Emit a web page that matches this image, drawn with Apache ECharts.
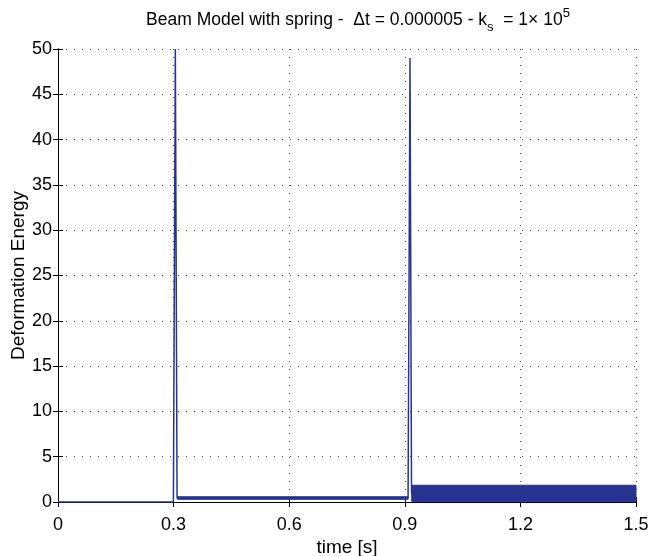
<!DOCTYPE html>
<html>
<head>
<meta charset="utf-8">
<script src="https://cdn.jsdelivr.net/npm/echarts@6/dist/echarts.min.js"></script>
<style>
  html, body { margin: 0; padding: 0; background: #fff; }
  #chart { width: 648px; height: 556px; }
</style>
</head>
<body>
<div id="chart"></div>
<script>
// main trace: rest, two impact spikes
const mainTime = [0, 0.2995, 0.3045, 0.309, 0.312, 0.9085, 0.9105, 0.9135, 0.9175, 0.9195];
const mainEnergy = [0, 0, 50, 0.45, 0.45, 0.45, 0.45, 49, 0.9, 0.9];

// fast oscillation between impacts, drawn as its envelope
const band1Time = [0.31, 0.9085];
const band1Low = [0.3, 0.3];
const band1High = [0.58, 0.58];

// oscillation after second impact
const band2Time = [0.918, 1.5];
const band2Low = [0.04, 0.04];
const band2High = [1.85, 1.85];

const xTicks = [0, 0.3, 0.6, 0.9, 1.2, 1.5];

(function () {
  const lineColor = '#27348f';
  const font = 'Liberation Sans, Arial, sans-serif';
  const tickFs = 18;
  const nameFs = 19;

  const pairs = (xs, ys) => xs.map((x, i) => [x, ys[i]]);

  // envelope polygon through the axes' own scales
  const bandSeries = (name, xs, lo, hi) => ({
    name: name,
    type: 'custom',
    silent: true,
    z: 2,
    data: xs.map((x, i) => [x, lo[i], hi[i]]),
    renderItem: (params, api) => {
      if (params.dataIndex !== 0) return;
      const top = xs.map((x, i) => api.coord([x, hi[i]]));
      const bot = xs.map((x, i) => api.coord([x, lo[i]])).reverse();
      return {
        type: 'polygon',
        shape: { points: top.concat(bot) },
        style: { fill: lineColor, stroke: lineColor, lineWidth: 1 }
      };
    }
  });

  const gridLine = { show: true, lineStyle: { color: '#444', width: 1, type: [1, 7] } };
  const tick = { show: true, inside: true, length: 5, lineStyle: { color: '#000' } };
  const axisLine = { show: true, lineStyle: { color: '#000', width: 1 } };

  const chart = echarts.init(document.getElementById('chart'), null, { renderer: 'canvas' });
  const option = {
    backgroundColor: '#fff',
    animation: false,
    title: {
      text: 'Beam Model with spring -  Δt = 0.000005 - k{sub|s}  = 1× 10{sup|5}',
      left: 353,
      top: 2,
      textAlign: 'center',
      textStyle: {
        fontFamily: font,
        fontSize: 17.5,
        fontWeight: 'normal',
        color: '#000',
        lineHeight: 27,
        rich: {
          sub: { fontFamily: font, fontSize: 13, color: '#000', lineHeight: 14, verticalAlign: 'bottom' },
          sup: { fontFamily: font, fontSize: 13, color: '#000', lineHeight: 14, verticalAlign: 'top' }
        }
      }
    },
    grid: { left: 58, right: 12, top: 49, bottom: 54, containLabel: false, outerBoundsMode: 'none' },
    xAxis: [
      {
        type: 'value',
        min: 0,
        max: 1.5,
        interval: 0.3,
        name: 'time [s]',
        nameLocation: 'middle',
        nameGap: 36,
        nameMoveOverlap: false,
        nameTextStyle: { fontFamily: font, fontSize: nameFs, color: '#000' },
        axisLine: axisLine,
        axisTick: tick,
        splitLine: gridLine,
        axisLabel: {
          margin: 14,
          fontFamily: font,
          fontSize: tickFs,
          color: '#000',
          formatter: v => {
            const t = xTicks.find(x => Math.abs(x - v) < 1e-6);
            return t === 0 ? '0' : (t !== undefined ? t.toFixed(1) : '');
          }
        }
      },
      {
        type: 'value',
        position: 'top',
        min: 0,
        max: 1.5,
        interval: 0.3,
        axisLine: axisLine,
        axisTick: tick,
        axisLabel: { show: false },
        splitLine: { show: false }
      }
    ],
    yAxis: [
      {
        type: 'value',
        min: 0,
        max: 50,
        interval: 5,
        name: 'Deformation Energy',
        nameLocation: 'middle',
        nameGap: 30,
        nameMoveOverlap: false,
        nameTextStyle: { fontFamily: font, fontSize: nameFs, color: '#000' },
        axisLine: axisLine,
        axisTick: tick,
        splitLine: gridLine,
        axisLabel: { margin: 6, fontFamily: font, fontSize: tickFs, color: '#000' }
      },
      {
        type: 'value',
        position: 'right',
        min: 0,
        max: 50,
        interval: 5,
        axisLine: axisLine,
        axisTick: tick,
        axisLabel: { show: false },
        splitLine: { show: false }
      }
    ],
    series: [
      bandSeries('band1', band1Time, band1Low, band1High),
      bandSeries('band2', band2Time, band2Low, band2High),
      {
        name: 'energy',
        type: 'line',
        symbol: 'none',
        lineStyle: { color: lineColor, width: 1.5 },
        data: pairs(mainTime, mainEnergy),
        z: 3
      }
    ]
  };
  chart.setOption(option);
})();
</script>
</body>
</html>
